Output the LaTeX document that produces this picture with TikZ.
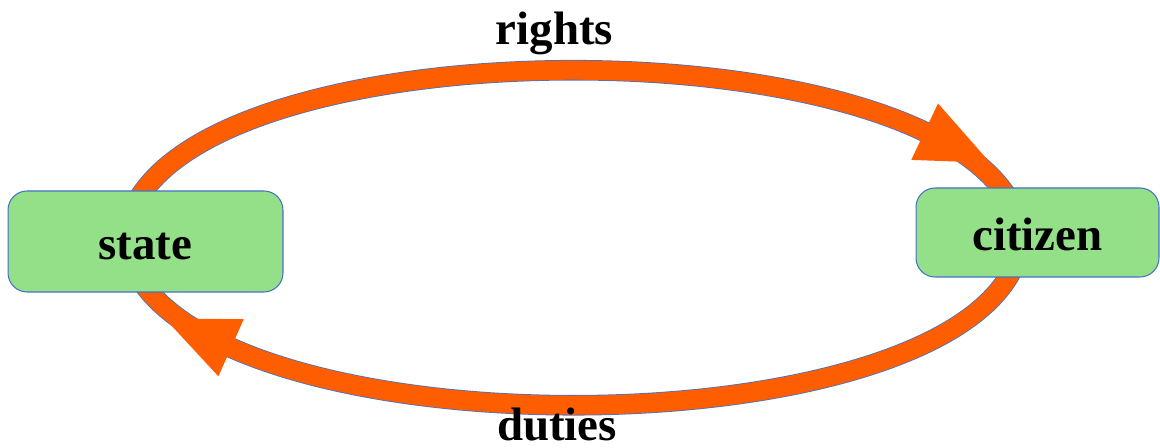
\documentclass[tikz,border=0pt]{standalone}
\usepackage{fontspec}
\setmainfont{Liberation Serif}
\usetikzlibrary{arrows.meta,positioning,backgrounds,decorations.markings}
\definecolor{bandorange}{HTML}{FF5E00}
\definecolor{boxgreen}{HTML}{94E088}
\definecolor{edgeblue}{HTML}{4472C4}

\begin{document}
\begin{tikzpicture}[
  x=0.02cm, y=0.02cm,
  party/.style={draw=edgeblue, line width=0.6pt, fill=boxgreen, rounded corners=0.38cm,
    text height=0.74cm, text depth=0cm, font=\fontsize{26.7}{32}\selectfont\bfseries},
  word/.style={font=\fontsize{26.7}{32}\selectfont\bfseries, anchor=base, inner sep=0pt},
  band/.style={preaction={draw=edgeblue, line width=0.38cm+0.9pt}, draw=bandorange, line width=0.38cm},
  head/.style={postaction={decorate, decoration={markings,
    mark=at position #1 with {\arrow[xshift=1.45cm]{Triangle[length=1.45cm, width=1.25cm, line width=0pt, color=bandorange]}}}}}
]
\useasboundingbox (0,0) rectangle (1160,448);

\node[party, minimum width=5.5cm, minimum height=2.02cm] (state) at (145.5,206.5) {state};
\node[party, minimum width=4.86cm, minimum height=1.78cm] (citizen) at (1037.5,215.5) {citizen};
\node[word] (rights) at (554.5,403) {rights};
\node[word] (duties) at (557,7) {duties};

\begin{scope}[on background layer]
\draw[band, head=0.875] ([shift={(-12.2,-17.75)}]state.north)
  .. controls +(86.8,184) and +(-86.8,184) .. ([shift={(-23.8,-20.75)}]citizen.north);
\draw[band, head=0.865] ([shift={(-23.8,10.25)}]citizen.south)
  .. controls +(-86.8,-184) and +(86.8,-184) .. ([shift={(-12.2,25.25)}]state.south);
\end{scope}
\end{tikzpicture}
\end{document}
